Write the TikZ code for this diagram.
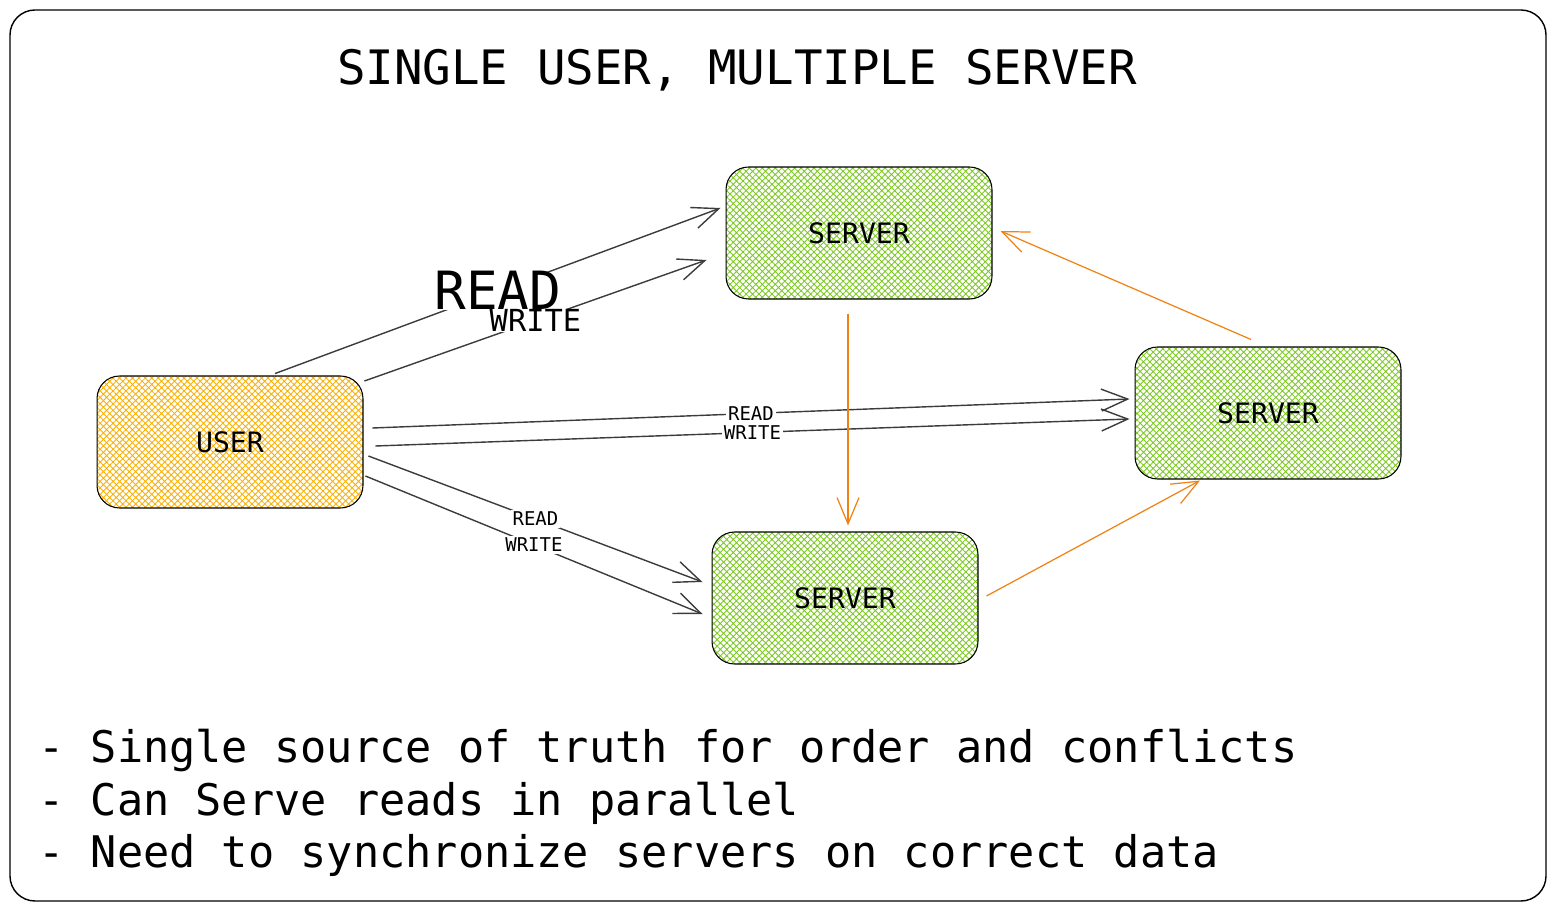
\documentclass[tikz,border=0pt]{standalone}
\usepackage{fontspec}
\setmonofont{DejaVu Sans Mono}
\usetikzlibrary{arrows.meta, calc, patterns.meta}
\definecolor{userorange}{RGB}{250, 176, 5}
\definecolor{servergreen}{RGB}{125, 200, 35}
\definecolor{syncorange}{RGB}{240, 130, 20}
\definecolor{linkgray}{RGB}{60, 60, 60}

\begin{document}
\begin{tikzpicture}[x=0.02cm, y=-0.02cm,
  box/.style={draw=black, line width=0.6pt, rounded corners=0.45cm, minimum width=5.32cm, minimum height=2.64cm, inner sep=0pt, font=\ttfamily\fontsize{16}{18}\selectfont},
  userbox/.style={box, pattern={Hatch[angle=45, distance=2.6pt, line width=0.5pt]}, pattern color=userorange},
  serverbox/.style={box, pattern={Hatch[angle=45, distance=2.6pt, line width=0.5pt]}, pattern color=servergreen},
  rwlink/.style={draw=linkgray, line width=0.8pt, -{Straight Barb[length=15pt, width=12.5pt]}},
  synclink/.style={draw=syncorange, line width=0.7pt, -{Straight Barb[length=15pt, width=12.5pt]}},
  lbl/.style={midway, fill=white, inner sep=1pt, font=\ttfamily\fontsize{10.8}{12}\selectfont}
]
  \useasboundingbox (0, 0) rectangle (1555, 911);

  % Frame and title
  \draw[line width=0.8pt, rounded corners=0.5cm] (10, 10) rectangle (1546, 901);
  \node[font=\ttfamily\fontsize{27}{30}\selectfont] (title) at (737, 70) {SINGLE USER, MULTIPLE SERVER};

  % User and servers
  \node[userbox] (user) at (230, 442) {USER};
  \node[serverbox] (srvtop) at (859, 233) {SERVER};
  \node[serverbox] (srvright) at (1268, 413) {SERVER};
  \node[serverbox] (srvbottom) at (845, 598) {SERVER};

  % Reads and writes from the user
  \draw[rwlink] ($(user.north)+(45, -2)$) -- node[lbl, inner sep=0pt, font=\ttfamily\fontsize{30}{32}\selectfont] {READ} ($(srvtop.west)+(-5, -25)$);
  \draw[rwlink] ($(user.east)+(1, -61)$) -- node[lbl, inner sep=0pt, font=\ttfamily\fontsize{17.3}{19}\selectfont] {WRITE} ($(srvtop.west)+(-19, 27)$);
  \draw[rwlink] ($(user.east)+(9, -14)$) -- node[lbl] {READ} ($(srvright.west)+(-5, -14)$);
  \draw[rwlink] ($(user.east)+(12, 4)$) -- node[lbl] {WRITE} ($(srvright.west)+(-5, 6)$);
  \draw[rwlink] ($(user.east)+(5, 14)$) -- node[lbl] {READ} ($(srvbottom.west)+(-9, -16)$);
  \draw[rwlink] ($(user.east)+(2, 34)$) -- node[lbl] {WRITE} ($(srvbottom.west)+(-9, 16)$);

  % Synchronisation between servers
  \draw[synclink] ($(srvtop.south)+(-11, 14)$) -- ($(srvbottom.north)+(3, -6)$);
  \draw[synclink] ($(srvbottom.east)+(8, -2)$) -- ($(srvright.south)+(-68, 1)$);
  \draw[synclink] ($(srvright.north)+(-17, -7)$) -- ($(srvtop.east)+(8, -2)$);

  % Notes
  \node[anchor=west, align=left, inner sep=0pt, font=\ttfamily\fontsize{24.8}{30}\selectfont] (notes) at (38, 803) {%
    - Single source of truth for order and conflicts\\
    - Can Serve reads in parallel\\
    - Need to synchronize servers on correct data};
\end{tikzpicture}
\end{document}
